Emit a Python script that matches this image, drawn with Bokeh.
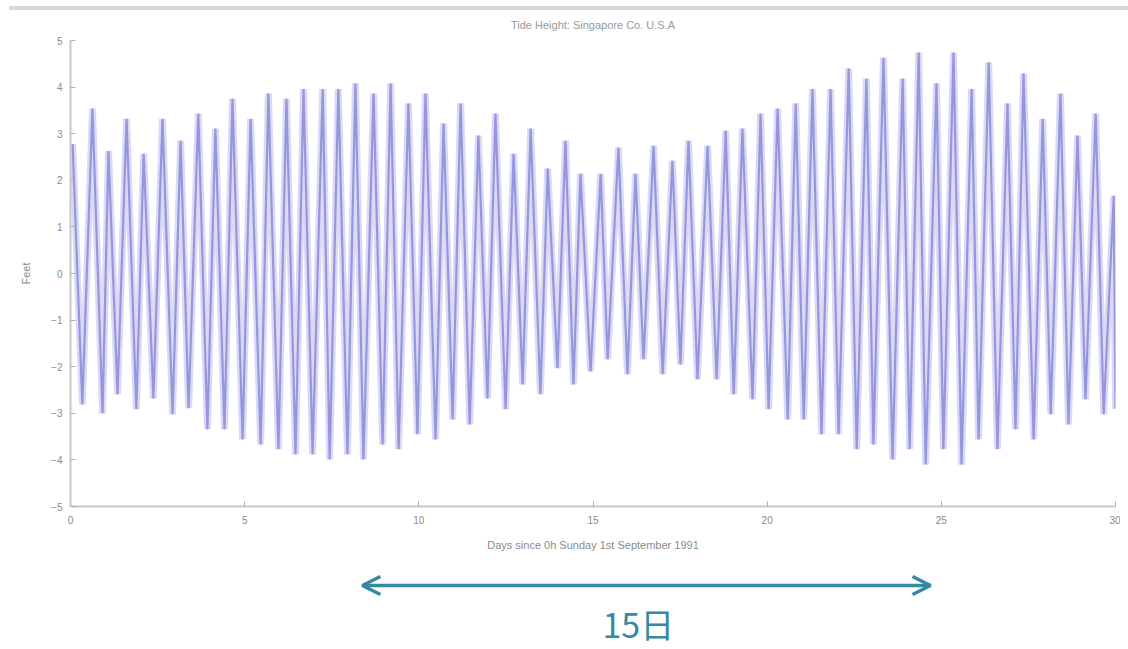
from bokeh.plotting import figure
from bokeh.models import Range1d, Label, Arrow, OpenHead, FixedTicker, Div
from bokeh.layouts import column
from bokeh.embed import file_html
from bokeh.resources import INLINE

# ---- data (days since 0h 1 Sep 1991, feet) ----
high_days = [0.06, 0.63, 1.09, 1.61, 2.10, 2.64, 3.16, 3.67, 4.16, 4.65,
             5.17, 5.68, 6.20, 6.69, 7.24, 7.69, 8.18, 8.70, 9.19, 9.70,
             10.19, 10.71, 11.20, 11.71, 12.20, 12.72, 13.21, 13.70, 14.21, 14.64,
             15.22, 15.73, 16.22, 16.74, 17.28, 17.74, 18.29, 18.81, 19.29, 19.81,
             20.30, 20.82, 21.30, 21.82, 22.34, 22.85, 23.34, 23.89, 24.35, 24.86,
             25.35, 25.87, 26.36, 26.90, 27.36, 27.91, 28.42, 28.91, 29.43, 29.95]
high_feet = [2.78, 3.54, 2.63, 3.32, 2.57, 3.32, 2.85, 3.43, 3.11, 3.75,
             3.32, 3.86, 3.75, 3.96, 3.96, 3.96, 4.08, 3.86, 4.08, 3.65,
             3.86, 3.22, 3.65, 2.96, 3.43, 2.57, 3.11, 2.25, 2.85, 2.14,
             2.14, 2.70, 2.14, 2.74, 2.42, 2.85, 2.74, 3.06, 3.11, 3.43,
             3.54, 3.65, 3.96, 3.96, 4.40, 4.18, 4.63, 4.18, 4.74, 4.08,
             4.74, 3.96, 4.53, 3.65, 4.29, 3.32, 3.86, 2.96, 3.43, 1.67]
low_days = [0.34, 0.92, 1.35, 1.89, 2.38, 2.93, 3.39, 3.93, 4.42, 4.94,
            5.46, 5.97, 6.46, 6.95, 7.44, 7.95, 8.41, 8.96, 9.42, 9.96,
            10.48, 10.97, 11.46, 11.97, 12.49, 12.98, 13.49, 13.98, 14.44, 14.93,
            15.42, 15.99, 16.45, 17.00, 17.51, 18.00, 18.55, 19.04, 19.58, 20.04,
            20.59, 21.05, 21.56, 22.05, 22.57, 23.05, 23.60, 24.09, 24.55, 25.06,
            25.58, 26.07, 26.61, 27.13, 27.65, 28.14, 28.65, 29.14, 29.66, 30.00]
low_feet = [-2.81, -3.00, -2.59, -2.91, -2.68, -3.02, -2.89, -3.34, -3.34, -3.56,
            -3.67, -3.77, -3.88, -3.88, -3.99, -3.88, -3.99, -3.67, -3.77, -3.45,
            -3.56, -3.13, -3.24, -2.68, -2.91, -2.38, -2.59, -2.03, -2.38, -2.10,
            -1.84, -2.16, -1.84, -2.16, -1.95, -2.27, -2.27, -2.59, -2.70, -2.91,
            -3.13, -3.13, -3.45, -3.45, -3.77, -3.67, -3.99, -3.77, -4.10, -3.77,
            -4.10, -3.56, -3.77, -3.34, -3.56, -3.02, -3.24, -2.70, -3.02, -2.90]

x_ticks = [0, 5, 10, 15, 20, 25, 30]
y_ticks = [-5, -4, -3, -2, -1, 0, 1, 2, 3, 4, 5]

title_text = "Tide Height: Singapore Co. U.S.A"
x_label = "Days since 0h Sunday 1st September 1991"
y_label = "Feet"
span_label = "15日"
span_start_day = 8.38
span_end_day = 24.69
span_label_day = 16.3

# merge highs and lows into one time-ordered series
pairs = sorted(zip(high_days + low_days, high_feet + low_feet))
days = [d for d, _ in pairs]
feet = [h for _, h in pairs]

GREY_TXT = "#8a8a8a"

# thin grey rule at the very top of the picture
top_rule = Div(text="", width=1119, height=4, margin=(6, 0, 0, 9),
               styles={"background-color": "#d8d8d8"})

p = figure(width=1120, height=546, output_backend="svg", toolbar_location=None,
           x_range=Range1d(0, 30), y_range=Range1d(-5, 5),
           min_border_left=70, min_border_right=5, min_border_top=30, min_border_bottom=50)
p.outline_line_color = None
p.grid.visible = False

p.title.text = title_text
p.title.align = "center"
p.title.vertical_align = "top"
p.title.text_font = "Liberation Sans"
p.title.text_font_size = "11px"
p.title.text_font_style = "normal"
p.title.text_color = "#9a9a9a"
p.title.standoff = 16

# tide trace (light halo + main line, to mimic the soft original)
p.line(days, feet, line_color="#dadaf7", line_width=7)
p.line(days, feet, line_color="#8a8ad8", line_width=2.2, line_alpha=0.85)

for ax in (p.xaxis[0], p.yaxis[0]):
    ax.axis_line_color = "#c8c8c8"
    ax.axis_line_width = 2
    ax.major_tick_line_color = "#b0b0b0"
    ax.major_tick_in = 5
    ax.major_tick_out = 0
    ax.minor_tick_line_color = None
    ax.major_label_text_color = GREY_TXT
    ax.major_label_text_font = "Liberation Sans"
    ax.major_label_text_font_size = "10px"
    ax.axis_label_text_color = GREY_TXT
    ax.axis_label_text_font = "Liberation Sans"
    ax.axis_label_text_font_size = "11px"
    ax.axis_label_text_font_style = "normal"

p.xaxis.ticker = FixedTicker(ticks=x_ticks)
p.yaxis.ticker = FixedTicker(ticks=y_ticks)
p.xaxis.axis_label = x_label
p.yaxis.axis_label = y_label
p.xaxis.major_label_standoff = 9
p.xaxis.axis_label_standoff = 12
p.yaxis.major_label_standoff = 8
p.yaxis.axis_label_standoff = 16

# span annotation panel below the chart, sharing the day axis
teal = "#3589a0"
ann = figure(width=1120, height=93, output_backend="svg", toolbar_location=None,
             x_range=p.x_range, y_range=Range1d(0, 93),
             x_axis_type=None, y_axis_type=None,
             min_border_left=70, min_border_right=5, min_border_top=0, min_border_bottom=0)
ann.outline_line_color = None
ann.grid.visible = False
ann.add_layout(Arrow(start=OpenHead(size=18, line_color=teal, line_width=3.5),
                     end=OpenHead(size=18, line_color=teal, line_width=3.5),
                     x_start=span_start_day, y_start=64, x_end=span_end_day, y_end=64,
                     line_color=teal, line_width=3.5))
ann.add_layout(Label(x=span_label_day, y=26, text=span_label,
                     text_align="center", text_baseline="middle",
                     text_font="Noto Sans CJK JP", text_font_size="34px", text_color=teal))

layout = column(top_rule, p, ann, spacing=0)
open("out.html", "w").write(file_html(layout, INLINE))
